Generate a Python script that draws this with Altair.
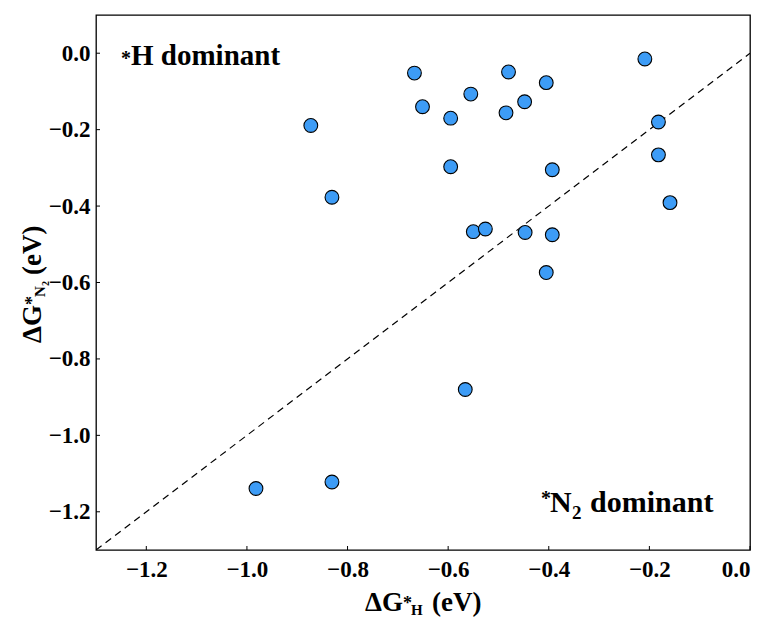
import altair as alt
import pandas as pd

# Adsorption free energies (eV)
dG_H = [-0.667, -0.651, -0.595, -0.555, -0.480, -0.485, -0.448, -0.405,
        -0.209, -0.182, -0.182, -0.159, -0.595, -0.393, -0.550, -0.526,
        -0.447, -0.393, -0.405, -0.566, -0.873, -0.831, -0.982, -0.831]
dG_N2 = [-0.052, -0.140, -0.170, -0.107, -0.049, -0.156, -0.127, -0.077,
         -0.015, -0.180, -0.266, -0.391, -0.297, -0.305, -0.467, -0.460,
         -0.469, -0.475, -0.574, -0.880, -0.189, -0.377, -1.139, -1.122]

x_ticks = [-1.2, -1.0, -0.8, -0.6, -0.4, -0.2, 0.0]
y_ticks = [-1.2, -1.0, -0.8, -0.6, -0.4, -0.2, 0.0]
parity_x = [-1.3, 0.0]

W, H = 654, 535
FONT = "Liberation Serif"

pts = pd.DataFrame({"dG_H": dG_H, "dG_N2": dG_N2})
parity = pd.DataFrame({"dG_H": parity_x, "dG_N2": parity_x})
xt = pd.DataFrame({"t": x_ticks})
yt = pd.DataFrame({"t": y_ticks})

xs = alt.Scale(domain=[-1.3, 0.0], nice=False, zero=False)
ys = alt.Scale(domain=[-1.3, 0.1], nice=False, zero=False)

x_axis = alt.Axis(values=x_ticks, format=".1f", ticks=False, domain=False, grid=False,
                  labelFont=FONT, labelFontWeight="bold", labelFontSize=23,
                  labelColor="black", labelPadding=8, title=None)
y_axis = alt.Axis(values=y_ticks, format=".1f", ticks=False, domain=False, grid=False,
                  labelFont=FONT, labelFontWeight="bold", labelFontSize=23,
                  labelColor="black", labelPadding=6, title=None)

line = alt.Chart(parity).mark_line(color="black", strokeWidth=1.2, strokeDash=[7, 5], clip=True).encode(
    x=alt.X("dG_H:Q", scale=xs, axis=x_axis),
    y=alt.Y("dG_N2:Q", scale=ys, axis=y_axis),
)

dots = alt.Chart(pts).mark_point(shape="circle", filled=True, size=190, fill="#3d9cf6",
                                 stroke="black", strokeWidth=1.1, opacity=1).encode(
    x=alt.X("dG_H:Q", scale=xs),
    y=alt.Y("dG_N2:Q", scale=ys),
)

# inward tick marks
xtick_marks = alt.Chart(xt).mark_rule(color="black", strokeWidth=1).encode(
    x=alt.X("t:Q", scale=xs), y=alt.value(H), y2=alt.value(H - 4))
ytick_marks = alt.Chart(yt).mark_rule(color="black", strokeWidth=1).encode(
    y=alt.Y("t:Q", scale=ys), x=alt.value(0), x2=alt.value(4))


def txt(s, x, y, size, angle=0, align="left"):
    kw = dict(text=s, font=FONT, fontWeight="bold", fontSize=size, color="black",
              align=align, baseline="alphabetic")
    if angle:
        kw["angle"] = angle
    return alt.Chart(pd.DataFrame({"k": [0]})).mark_text(**kw).encode(
        x=alt.value(x), y=alt.value(y))


labels = [
    # x axis title: ΔG_{*H} (eV)
    txt("ΔG", 269, 596, 27),
    txt("*", 307, 594, 18),
    txt("H", 315, 600, 15),
    txt("(eV)", 336, 596, 27),
    # y axis title: ΔG_{*N2} (eV)
    txt("ΔG", -55, 328, 27, angle=270),
    txt("*", -58, 290, 18, angle=270),
    txt("N", -51, 282, 15, angle=270),
    txt("2", -47, 271, 10, angle=270),
    txt("(eV)", -55, 260, 27, angle=270),
    # region annotations
    txt("*", 25, 50, 20),
    txt("H dominant", 35, 50, 29),
    txt("*", 445, 490, 20),
    txt("N", 454, 497, 30),
    txt("2", 476, 504, 19),
    txt("dominant", 494, 497, 30),
]

chart = alt.layer(line, dots, xtick_marks, ytick_marks, *labels).properties(
    width=W, height=H,
    autosize=alt.AutoSizeParams(type="none"),
    padding={"left": 96, "top": 15, "right": 17, "bottom": 69},
    background="white",
).configure_view(stroke="black", strokeWidth=1.3).configure_axis(
    labelFont=FONT, labelFontWeight="bold", labelFontSize=23, labelColor="black"
)

chart.save("out.html", embed_options={"renderer": "svg", "actions": False})
